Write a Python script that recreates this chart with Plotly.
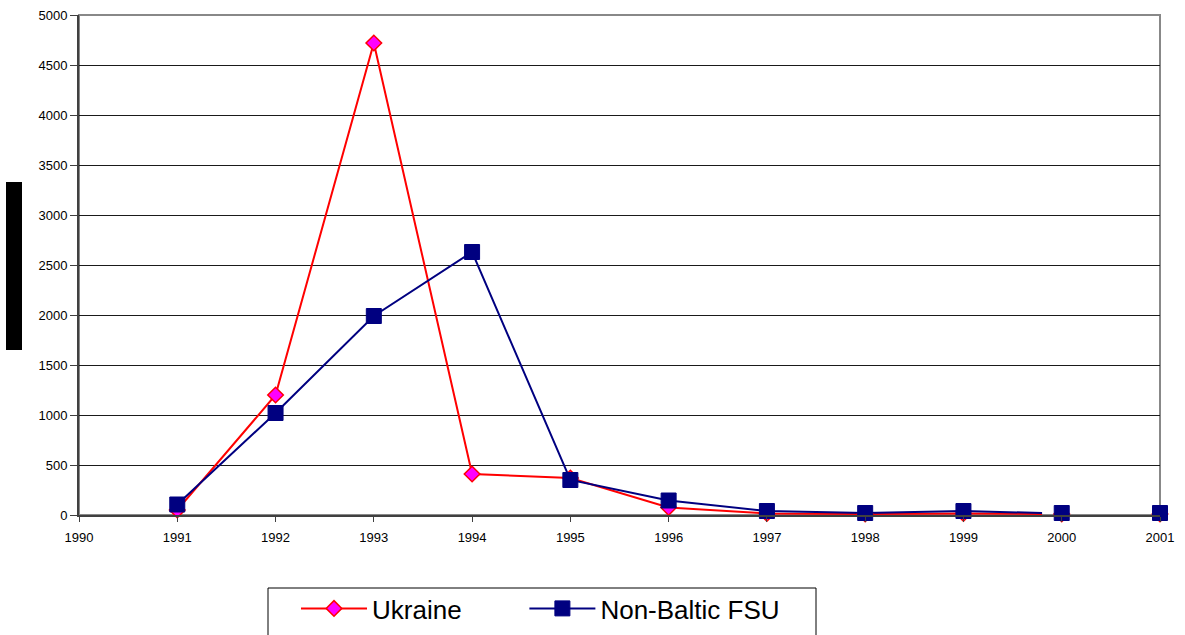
import plotly.graph_objects as go

years = [1991, 1992, 1993, 1994, 1995, 1996, 1997, 1998, 1999, 2000, 2001]
ukraine = [50, 1200, 4720, 410, 370, 75, 15, 10, 15, 10, 10]
non_baltic = [105, 1020, 1990, 2630, 350, 145, 40, 20, 40, 20, 20]
line_end_year = 1999.8  # Excel line stops short of 2000
x_ticks = list(range(1990, 2002))
series_names = ["Ukraine", "Non-Baltic FSU"]

RED = "#FF0000"
MAGENTA = "#FF00FF"
NAVY = "#000080"

ukr_marker = dict(symbol="diamond", size=12, color=MAGENTA, line=dict(color=RED, width=1.5))
nb_marker = dict(symbol="square", size=15, color=NAVY, line=dict(color=NAVY, width=1))

fig = go.Figure()

n_line = 9
fig.add_trace(go.Scatter(
    x=years[:n_line] + [line_end_year], y=ukraine[:n_line] + [ukraine[9]],
    mode="lines", line=dict(color=RED, width=2), showlegend=False, hoverinfo="skip"))
fig.add_trace(go.Scatter(
    x=years[:n_line] + [line_end_year], y=non_baltic[:n_line] + [non_baltic[9]],
    mode="lines", line=dict(color=NAVY, width=2), showlegend=False, hoverinfo="skip"))

fig.add_trace(go.Scatter(x=years, y=ukraine, name=series_names[0], mode="markers",
                         marker=ukr_marker, showlegend=False, cliponaxis=False))
fig.add_trace(go.Scatter(x=years, y=non_baltic, name=series_names[1], mode="markers",
                         marker=nb_marker, showlegend=False, cliponaxis=False))

# legend-only entries (line + marker)
fig.add_trace(go.Scatter(x=[None], y=[None], name=series_names[0] + "\u00a0" * 8,
                         mode="lines+markers", line=dict(color=RED, width=2), marker=ukr_marker))
fig.add_trace(go.Scatter(x=[None], y=[None], name=series_names[1],
                         mode="lines+markers", line=dict(color=NAVY, width=2), marker=nb_marker))

PW, PH = 1081, 500
fig.update_layout(
    width=1185, height=635,
    margin=dict(l=79, r=25, t=15, b=120, autoexpand=False),
    paper_bgcolor="white", plot_bgcolor="white",
    font=dict(family="Liberation Sans, Arial, sans-serif", size=13, color="black"),
    xaxis=dict(range=[1990, 2001], tickvals=x_ticks, ticktext=[str(t) for t in x_ticks],
               showgrid=False, zeroline=False, showline=True, linecolor="#404040", linewidth=2,
               ticks="outside", ticklen=5, tickcolor="#404040", tickfont=dict(size=13),
               ticklabelstandoff=4, automargin=False),
    yaxis=dict(range=[0, 5000], dtick=500, showgrid=True, gridcolor="#1a1a1a", gridwidth=1,
               zeroline=False, showline=True, linecolor="#404040", linewidth=2,
               ticks="outside", ticklen=7, tickcolor="#404040", tickfont=dict(size=13),
               automargin=False),
    legend=dict(orientation="h", x=(296 - 79) / PW, y=-(585 - 515) / PH,
                xanchor="left", yanchor="top",
                borderwidth=0, bgcolor="rgba(0,0,0,0)",
                font=dict(size=26, color="black"), itemwidth=66, traceorder="normal"),
    shapes=[
        dict(type="rect", xref="paper", yref="paper", x0=0, x1=1, y0=0, y1=1,
             line=dict(color="#888888", width=2), layer="below"),
        dict(type="rect", xref="paper", yref="paper", x0=-73 / PW, x1=-57 / PW,
             y0=(515 - 350) / PH, y1=(515 - 182) / PH, fillcolor="black", line=dict(width=0)),
        dict(type="rect", xref="paper", yref="paper", x0=(268 - 79) / PW, x1=(816 - 79) / PW,
             y0=-(640 - 515) / PH, y1=-(588 - 515) / PH, line=dict(color="black", width=1),
             fillcolor="rgba(0,0,0,0)", layer="below"),
    ],
)

fig.write_html("out.html", config={"displayModeBar": False},
               post_script="document.body.style.margin='0';document.body.style.overflow='hidden';")
